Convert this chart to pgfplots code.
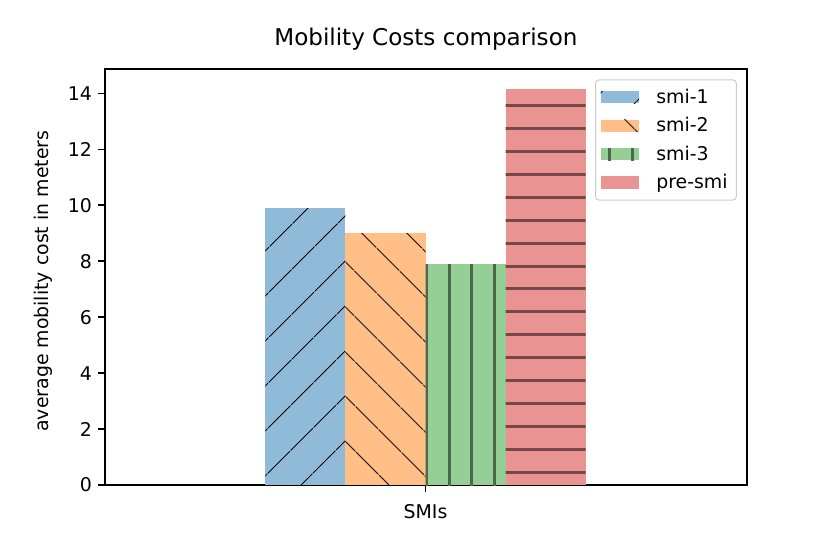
\documentclass[border=0pt]{standalone}
\usepackage{fontspec}
\setmainfont{DejaVu Sans}
\usepackage{pgfplots}
\pgfplotsset{compat=1.18}
\usetikzlibrary{patterns.meta}
\definecolor{c1}{HTML}{8FBBD9}
\definecolor{c2}{HTML}{FFBF86}
\definecolor{c3}{HTML}{95CF95}
\definecolor{c4}{HTML}{EA9393}
\definecolor{h3}{HTML}{4B684B}
\definecolor{h4}{HTML}{75494A}
\definecolor{lgframe}{HTML}{CCCCCC}
\newcommand{\lfont}{\fontsize{10.5}{12.6}\selectfont}
\begin{document}
\begin{tikzpicture}
\path[use as bounding box] (0,0) rectangle (460.8pt,307.6pt);
\begin{axis}[
  at={(58.3pt,38.3pt)}, anchor=south west,
  scale only axis, width=356.3pt, height=231pt,
  xmin=-0.801, xmax=0.803, ymin=0, ymax=14.87,
  ybar, bar width=0.2, bar shift=0pt,
  xtick={0}, xticklabels={SMIs},
  ytick={0,2,4,6,8,10,12,14},
  tick align=outside, tick pos=left,
  major tick length=3.7pt,
  tick style={black, line width=0.85pt},
  axis line style={black, line width=0.85pt},
  /pgf/number format/assume math mode=true,
  tick label style={font=\lfont},
  yticklabel style={anchor=east},
  xticklabel style={yshift=-3.5pt},
  title={Mobility Costs comparison},
  title style={at={(0.5,1)}, anchor=base, yshift=7.2pt, font=\fontsize{12.8}{15}\selectfont},
  ylabel={average mobility cost in meters},
  ylabel style={at={(axis description cs:-0.0873,0.49)}, anchor=base, font=\lfont},
  legend image code/.code={\draw[#1, draw=none, sharp corners] (0pt,-3.4pt) rectangle (21.3pt,3.4pt);},
  legend cell align=left,
  legend style={at={(axis description cs:0.9844,0.9752)}, anchor=north east,
    draw=lgframe, line width=0.55pt, rounded corners=2pt, font=\lfont,
    inner xsep=2.8pt, inner ysep=3.0pt, row sep=2.3pt,
    /tikz/every odd column/.append style={column sep=7.6pt}},
]
\addplot[fill=c1, draw=none, postaction={pattern={Lines[angle=45,distance=18.18pt,yshift=1.05pt,line width=0.6pt]}, pattern color=black}] coordinates {(-0.3,9.89)};
\addlegendentry{smi-1}
\addplot[fill=c2, draw=none, postaction={pattern={Lines[angle=-45,distance=18.18pt,yshift=24.1pt,line width=0.6pt]}, pattern color=black}] coordinates {(-0.1,9.0)};
\addlegendentry{smi-2}
\addplot[fill=c3, draw=none, postaction={pattern={Lines[angle=90,distance=12.71pt,xshift=7.8pt,line width=1.67pt]}, pattern color=h3}] coordinates {(0.1,7.9)};
\addlegendentry{smi-3}
\addplot[fill=c4, draw=none, postaction={pattern={Lines[angle=0,distance=12.71pt,yshift=7.37pt,line width=1.67pt]}, pattern color=h4}] coordinates {(0.3,14.17)};
\addlegendentry{pre-smi}
\end{axis}
\end{tikzpicture}
\end{document}
